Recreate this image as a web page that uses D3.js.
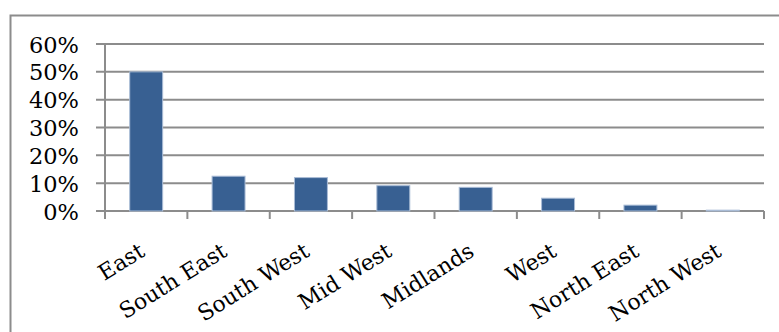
<!DOCTYPE html>
<html>
<head>
<meta charset="utf-8">
<script src="https://cdn.jsdelivr.net/npm/d3@7"></script>
<style>
  body { margin: 0; background: #fff; }
</style>
</head>
<body>
<div id="chart"></div>
<script>
// Data
var regions = ["East", "South East", "South West", "Mid West", "Midlands", "West", "North East", "North West"];
var shares = [0.50, 0.125, 0.12, 0.091, 0.085, 0.046, 0.021, 0.003];
var yTicks = [0, 0.1, 0.2, 0.3, 0.4, 0.5, 0.6];

drawChart();

function drawChart() {
  var svg = d3.select("#chart")
              .append("svg")
              .attr("width", 779)
              .attr("height", 332);

  var margin = {top: 44, right: 15, bottom: 121, left: 105},
      width = 779 - margin.left - margin.right,
      height = 332 - margin.top - margin.bottom;

  // outer frame (only top and left show in the crop)
  svg.append("path")
    .attr("d", "M10.5,340 V15.5 H790")
    .attr("fill", "none")
    .attr("stroke", "#8c8c8c")
    .attr("stroke-width", 2);

  var x = d3.scaleBand().domain(regions).range([0, width]).paddingInner(0.6).paddingOuter(0.3),
      xEdge = d3.scaleBand().domain(regions).range([0, width]),
      y = d3.scaleLinear().domain([0, 0.6]).range([height, 0]);

  var g = svg.append("g")
      .attr("transform", "translate(" + margin.left + "," + margin.top + ")");

  // gridlines
  g.selectAll(".grid")
    .data(yTicks)
    .enter()
    .append("line")
    .attr("x1", -9)
    .attr("x2", width)
    .attr("y1", function(d){return y(d);})
    .attr("y2", function(d){return y(d);})
    .attr("stroke", "#8c8c8c")
    .attr("stroke-width", 2);

  // y axis line
  g.append("line")
    .attr("x1", 0).attr("x2", 0)
    .attr("y1", 0).attr("y2", height + 8)
    .attr("stroke", "#8c8c8c")
    .attr("stroke-width", 2);

  // x ticks at category edges
  var edges = regions.map(function(r){return xEdge(r);}).concat([width]);
  g.selectAll(".xtick")
    .data(edges.slice(1))
    .enter()
    .append("line")
    .attr("x1", function(d){return d;})
    .attr("x2", function(d){return d;})
    .attr("y1", height)
    .attr("y2", height + 8)
    .attr("stroke", "#8c8c8c")
    .attr("stroke-width", 2);

  // y labels
  g.selectAll(".ylab")
    .data(yTicks)
    .enter()
    .append("text")
    .attr("x", -26)
    .attr("y", function(d){return y(d);})
    .attr("dy", "0.38em")
    .attr("text-anchor", "end")
    .attr("font-family", "DejaVu Serif, serif")
    .attr("font-size", "22.5px")
    .attr("fill", "#000")
    .text(d3.format(".0%"));

  // bars
  g.selectAll(".bar")
    .data(shares)
    .enter()
    .append("rect")
    .attr("x", function(d, i){return x(regions[i]);})
    .attr("y", function(d){return y(d);})
    .attr("width", x.bandwidth())
    .attr("height", function(d){return height - y(d);})
    .attr("fill", "#386092")
    .attr("stroke", "#a9bcd6")
    .attr("stroke-width", 1);

  // x labels, rotated
  g.selectAll(".xlab")
    .data(regions)
    .enter()
    .append("text")
    .attr("transform", function(d){
      return "translate(" + (xEdge(d) + xEdge.bandwidth() / 2) + "," + (height + 44) + ") rotate(-32)";
    })
    .attr("text-anchor", "end")
    .attr("font-family", "DejaVu Serif, serif")
    .attr("font-size", "22px")
    .attr("fill", "#000")
    .text(function(d){return d;});
}
</script>
</body>
</html>
